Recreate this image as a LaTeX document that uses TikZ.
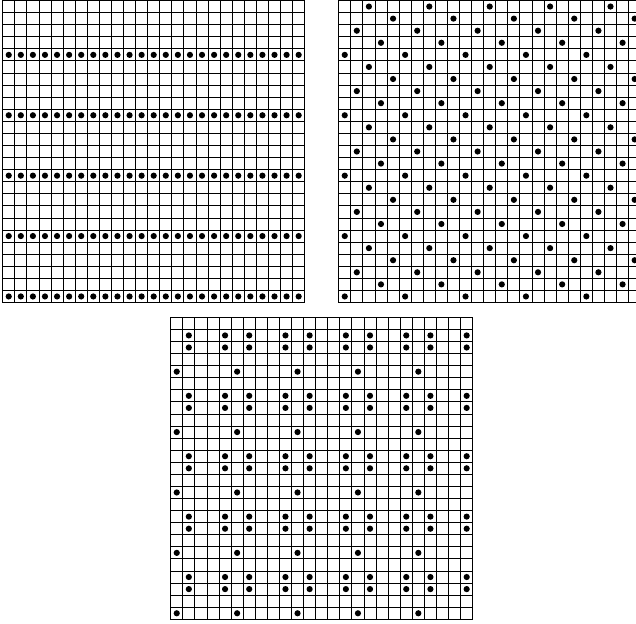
\documentclass[tikz,border=0pt]{standalone}
\begin{document}
\begin{tikzpicture}[x=1pt,y=-1pt,
  gridline/.style={line width=0.85pt,black,line cap=rect},
  dot/.style={fill=black}]
\clip (0,0) rectangle (636,623);
\def\h{12.08}
\def\rad{3.1pt}
% top-left grid
\begin{scope}[shift={(2.7,0.5)}]
  \foreach \i in {0,...,25} {
    \draw[gridline] ({\i*\h},0) -- ({\i*\h},{25*\h});
    \draw[gridline] (0,{\i*\h}) -- ({25*\h},{\i*\h});
  }
  \foreach \r in {4,9,...,24}
    \foreach \c in {0,...,24}
      \fill[dot] ({(\c+0.5)*\h},{(\r+0.5)*\h}) circle (\rad);
\end{scope}
% top-right grid
\begin{scope}[shift={(338.7,0.5)}]
  \foreach \i in {0,...,25} {
    \draw[gridline] ({\i*\h},0) -- ({\i*\h},{25*\h});
    \draw[gridline] (0,{\i*\h}) -- ({25*\h},{\i*\h});
  }
  \foreach \r in {0,...,24} {
    \pgfmathtruncatemacro\b{mod(2+2*\r,5)}
    \foreach \k in {0,...,4}
      \fill[dot] ({(\b+5*\k+0.5)*\h},{(\r+0.5)*\h}) circle (\rad);
  }
\end{scope}
% bottom grid
\begin{scope}[shift={(170.7,317.3)}]
  \foreach \i in {0,...,25} {
    \draw[gridline] ({\i*\h},0) -- ({\i*\h},{25*\h});
    \draw[gridline] (0,{\i*\h}) -- ({25*\h},{\i*\h});
  }
  \foreach \r in {1,2,6,7,11,12,16,17,21,22}
    \foreach \c in {1,4,6,9,11,14,16,19,21,24}
      \fill[dot] ({(\c+0.5)*\h},{(\r+0.5)*\h}) circle (\rad);
  \foreach \r in {4,9,...,24}
    \foreach \c in {0,5,...,20}
      \fill[dot] ({(\c+0.5)*\h},{(\r+0.5)*\h}) circle (\rad);
\end{scope}
\end{tikzpicture}
\end{document}
